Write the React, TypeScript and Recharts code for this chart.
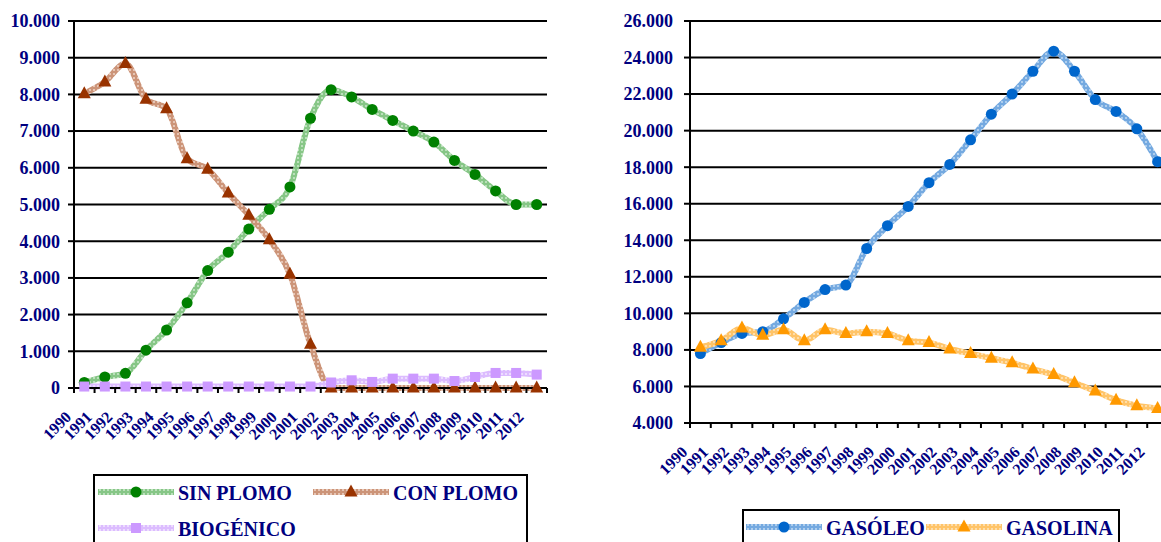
import React from 'react'
import { LineChart, Line, XAxis, YAxis, CartesianGrid } from 'recharts'

// ---- data ----
const years = [
  '1990', '1991', '1992', '1993', '1994', '1995', '1996', '1997', '1998', '1999', '2000', '2001',
  '2002', '2003', '2004', '2005', '2006', '2007', '2008', '2009', '2010', '2011', '2012'
]

const sinPlomo = [150, 300, 400, 1030, 1580, 2320, 3200, 3700, 4330, 4870, 5480, 7350, 8130, 7930, 7590, 7290, 7000, 6700, 6200, 5820, 5370, 5000, 5000]
const conPlomo = [8020, 8340, 8840, 7870, 7610, 6250, 5960, 5310, 4710, 4040, 3100, 1190, 0, 0, 0, 0, 0, 0, 0, 0, 0, 0, 0]
const biogenico = [40, 40, 40, 40, 40, 40, 40, 40, 40, 40, 40, 40, 150, 210, 165, 255, 255, 255, 190, 300, 410, 410, 365]

const gasoleo = [7800, 8400, 8900, 9000, 9700, 10600, 11300, 11550, 13550, 14800, 15850, 17150, 18150, 19500, 20900, 22000, 23250, 24350, 23250, 21700, 21050, 20100, 18300]
const gasolina = [8150, 8500, 9200, 8800, 9100, 8500, 9100, 8900, 9000, 8900, 8500, 8400, 8050, 7800, 7550, 7300, 6950, 6650, 6200, 5750, 5250, 4950, 4800]

const leftTicks = [0, 1000, 2000, 3000, 4000, 5000, 6000, 7000, 8000, 9000, 10000]
const rightTicks = [4000, 6000, 8000, 10000, 12000, 14000, 16000, 18000, 20000, 22000, 24000, 26000]

// ---- styles ----
const NAVY = '#000080'
const FONT = '"Liberation Serif", "Times New Roman", serif'

type Shape = 'circle' | 'triangle' | 'square'
interface Series {
  key: string
  name: string
  values: number[]
  shape: Shape
  color: string
  pat: string
  base: string
  dot: string
}

const leftSeries: Series[] = [
  { key: 'sin', name: 'SIN PLOMO', values: sinPlomo, shape: 'circle', color: '#008000', pat: 'pGreen', base: '#86c686', dot: '#cde9cd' },
  { key: 'con', name: 'CON PLOMO', values: conPlomo, shape: 'triangle', color: '#993300', pat: 'pBrown', base: '#cc9478', dot: '#efd6c8' },
  { key: 'bio', name: 'BIOGÉNICO', values: biogenico, shape: 'square', color: '#cc99ff', pat: 'pPurple', base: '#dcbcff', dot: '#f3e8ff' }
]

const rightSeries: Series[] = [
  { key: 'gasoleo', name: 'GASÓLEO', values: gasoleo, shape: 'circle', color: '#0066cc', pat: 'pBlue', base: '#74a9e0', dot: '#c2dbf3' },
  { key: 'gasolina', name: 'GASOLINA', values: gasolina, shape: 'triangle', color: '#ff9900', pat: 'pOrange', base: '#ffc468', dot: '#ffe6bf' }
]

const toRows = (series: Series[]) =>
  years.map((year, i) => {
    const row: any = { year }
    series.forEach((s) => (row[s.key] = s.values[i]))
    return row
  })

const leftData = toRows(leftSeries)
const rightData = toRows(rightSeries)

const fmt = (v: number) => String(v).replace(/\B(?=(\d{3})+(?!\d))/g, '.')

function marker(shape: Shape, cx: number, cy: number, color: string, key?: any) {
  if (shape === 'circle') return <circle key={key} cx={cx} cy={cy} r={5.5} fill={color} />
  if (shape === 'triangle')
    return <path key={key} d={`M${cx},${cy - 7.5}L${cx + 6.5},${cy + 4.5}L${cx - 6.5},${cy + 4.5}Z`} fill={color} />
  return <rect key={key} x={cx - 5} y={cy - 5} width={10} height={10} fill={color} />
}

const dotFor = (s: Series) => (p: any) => marker(s.shape, p.cx, p.cy, s.color, `${s.key}-${p.index}`)

// category ticks sit on the boundaries between years, labels are rotated 45deg
const makeXTick = (step: number) => (props: any) => {
  const { x, y, payload, index } = props
  const tx = x - 12
  const ty = y + 30
  return (
    <g>
      <line x1={x - step / 2} x2={x - step / 2} y1={y} y2={y + 5} stroke="#000" strokeWidth={2} />
      {index === years.length - 1 && (
        <line x1={x + step / 2} x2={x + step / 2} y1={y} y2={y + 5} stroke="#000" strokeWidth={2} />
      )}
      <text
        x={tx}
        y={ty}
        transform={`rotate(-45 ${tx} ${ty})`}
        textAnchor="end"
        fill={NAVY}
        fontSize={16}
        fontWeight={700}
        fontFamily={FONT}
      >
        {payload.value}
      </text>
    </g>
  )
}

const yTickStyle = { fill: NAVY, fontSize: 18, fontWeight: 700, fontFamily: FONT }

function Swatch({ s }: { s: Series }) {
  return (
    <svg width={76} height={16} style={{ display: 'block' }}>
      <rect x={0} y={5} width={76} height={6} fill={`url(#${s.pat})`} />
      {marker(s.shape, 38, 8, s.color)}
    </svg>
  )
}

function LegendItem({ s, x, y }: { s: Series; x: number; y: number }) {
  return (
    <>
      <div style={{ position: 'absolute', left: x, top: y - 8 }}>
        <Swatch s={s} />
      </div>
      <div
        style={{
          position: 'absolute',
          left: x + 80,
          top: y - 11,
          fontFamily: FONT,
          fontWeight: 700,
          fontSize: 20,
          lineHeight: '24px',
          color: NAVY,
          whiteSpace: 'nowrap'
        }}
      >
        {s.name}
      </div>
    </>
  )
}

const LEFT_STEP = 473 / 23
const RIGHT_STEP = 478 / 23

export default function App() {
  const all = [...leftSeries, ...rightSeries]
  return (
    <div style={{ position: 'absolute', left: 0, top: 0, width: 1161, height: 542, overflow: 'hidden', background: '#fff' }}>
      <svg width={0} height={0} style={{ position: 'absolute' }}>
        <defs>
          {all.map((s) => (
            <pattern key={s.pat} id={s.pat} width={4} height={4} patternUnits="userSpaceOnUse">
              <rect width={4} height={4} fill={s.base} />
              <circle cx={2} cy={2} r={1} fill={s.dot} />
            </pattern>
          ))}
        </defs>
      </svg>

      <div style={{ position: 'absolute', left: 0, top: 0 }}>
        <LineChart width={560} height={542} data={leftData} margin={{ top: 21, right: 13, bottom: 94, left: 0 }}>
          <CartesianGrid vertical={false} stroke="#000" strokeWidth={2} />
          <XAxis
            dataKey="year"
            interval={0}
            height={60}
            padding={{ left: LEFT_STEP / 2, right: LEFT_STEP / 2 }}
            tickLine={false}
            tickSize={0}
            tickMargin={0}
            axisLine={{ stroke: '#000', strokeWidth: 2 }}
            tick={makeXTick(LEFT_STEP)}
          />
          <YAxis
            width={74}
            domain={[0, 10000]}
            ticks={leftTicks}
            interval={0}
            tickFormatter={fmt}
            tickSize={6}
            tickMargin={8}
            tickLine={{ stroke: '#000', strokeWidth: 2 }}
            axisLine={{ stroke: '#000', strokeWidth: 2 }}
            tick={yTickStyle}
          />
          {leftSeries.map((s) => (
            <Line
              key={s.key}
              dataKey={s.key}
              name={s.name}
              type="monotone"
              stroke={`url(#${s.pat})`}
              strokeWidth={6}
              dot={dotFor(s)}
              activeDot={false}
              isAnimationActive={false}
            />
          ))}
        </LineChart>
      </div>

      <div style={{ position: 'absolute', left: 600, top: 0 }}>
        <LineChart width={568} height={542} data={rightData} margin={{ top: 21, right: 0, bottom: 59, left: 0 }}>
          <CartesianGrid vertical={false} stroke="#000" strokeWidth={2} />
          <XAxis
            dataKey="year"
            interval={0}
            height={60}
            padding={{ left: RIGHT_STEP / 2, right: RIGHT_STEP / 2 }}
            tickLine={false}
            tickSize={0}
            tickMargin={0}
            axisLine={{ stroke: '#000', strokeWidth: 2 }}
            tick={makeXTick(RIGHT_STEP)}
          />
          <YAxis
            width={90}
            domain={[4000, 26000]}
            ticks={rightTicks}
            interval={0}
            tickFormatter={fmt}
            tickSize={6}
            tickMargin={11}
            tickLine={{ stroke: '#000', strokeWidth: 2 }}
            axisLine={{ stroke: '#000', strokeWidth: 2 }}
            tick={yTickStyle}
          />
          {rightSeries.map((s) => (
            <Line
              key={s.key}
              dataKey={s.key}
              name={s.name}
              type="monotone"
              stroke={`url(#${s.pat})`}
              strokeWidth={6}
              dot={dotFor(s)}
              activeDot={false}
              isAnimationActive={false}
            />
          ))}
        </LineChart>
      </div>

      {/* legends */}
      <div style={{ position: 'absolute', left: 93, top: 474, width: 431, height: 100, border: '2px solid #000' }} />
      <LegendItem s={leftSeries[0]} x={98} y={492} />
      <LegendItem s={leftSeries[1]} x={313} y={492} />
      <LegendItem s={leftSeries[2]} x={98} y={528} />

      <div style={{ position: 'absolute', left: 742, top: 509, width: 374, height: 100, border: '2px solid #000' }} />
      <LegendItem s={rightSeries[0]} x={746} y={527} />
      <LegendItem s={rightSeries[1]} x={926} y={527} />
    </div>
  )
}
